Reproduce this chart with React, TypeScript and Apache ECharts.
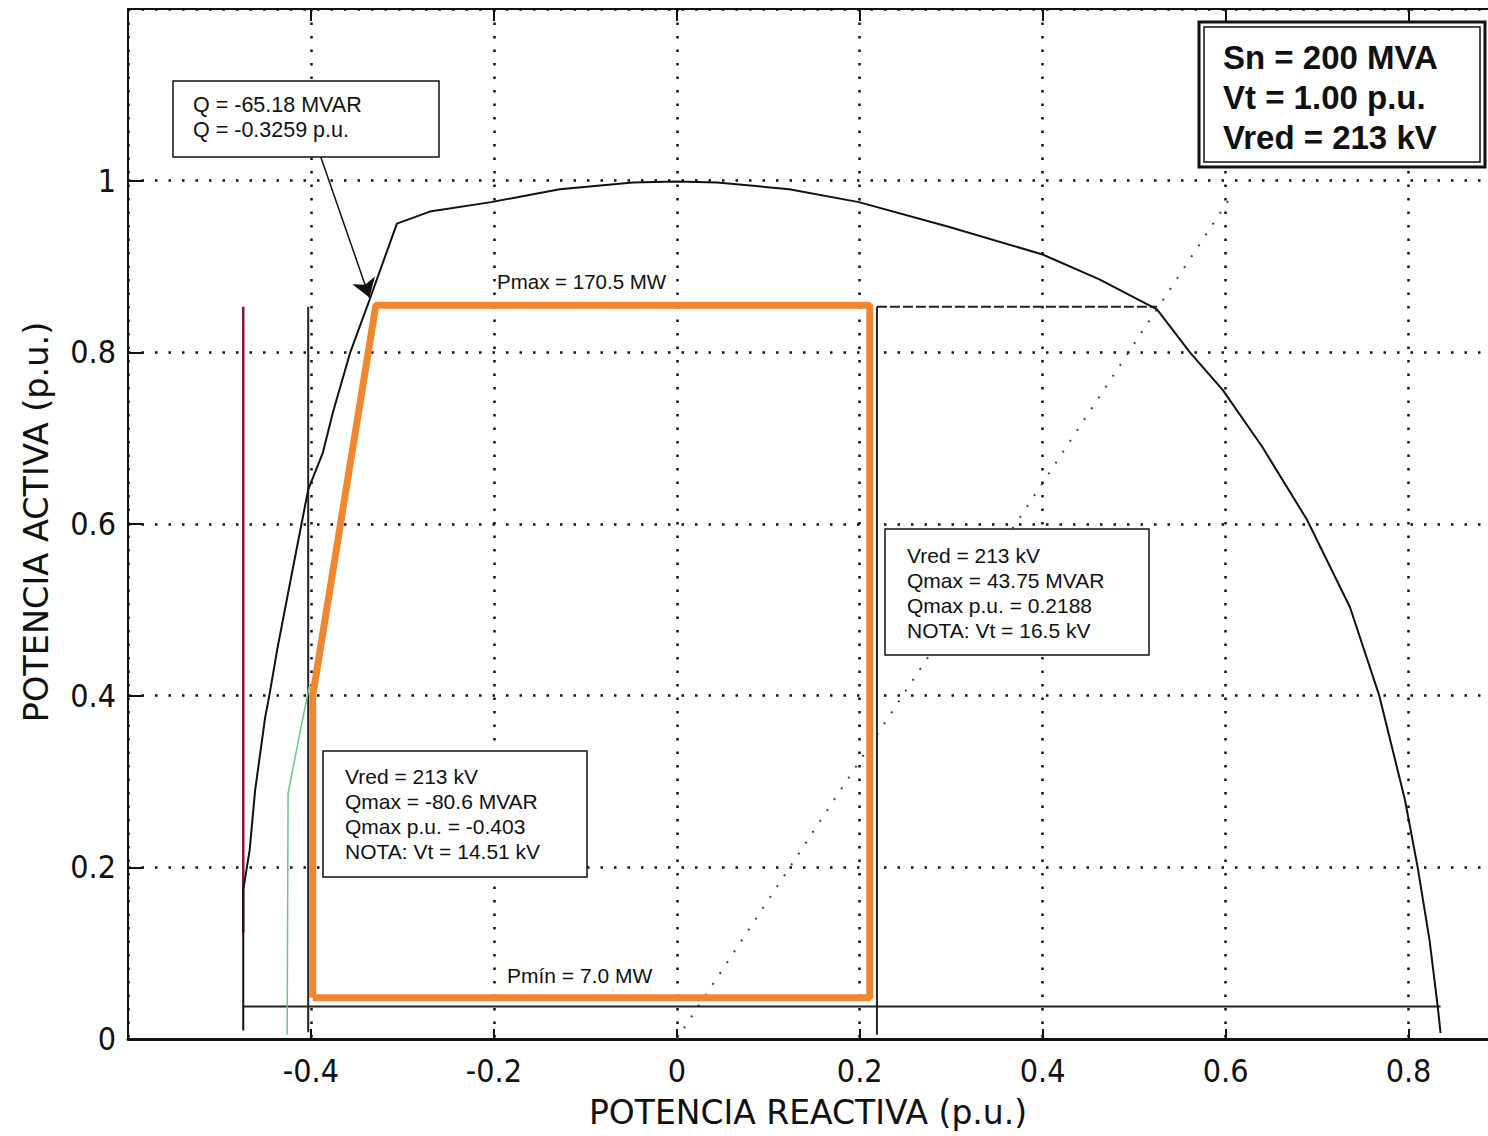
import React, { useEffect, useRef } from "react";
import * as echarts from "echarts";

// ---- axis ranges / ticks ----
const X_MIN = -0.6;
const X_MAX = 0.9;
const Y_MIN = 0;
const Y_MAX = 1.2;
const TICK_STEP = 0.2;

// ---- data (Q p.u., P p.u.) ----
const capabilityCurve: number[][] = [
  [-0.474, 0.010], [-0.474, 0.124], [-0.474, 0.174], [-0.467, 0.220], [-0.461, 0.290],
  [-0.450, 0.375], [-0.445, 0.403], [-0.437, 0.453], [-0.420, 0.547], [-0.403, 0.640],
  [-0.387, 0.683], [-0.376, 0.730], [-0.357, 0.800], [-0.336, 0.861], [-0.306, 0.950],
  [-0.270, 0.964], [-0.203, 0.975], [-0.128, 0.990], [-0.048, 0.998], [0.0, 0.999],
  [0.044, 0.998], [0.123, 0.990], [0.199, 0.975], [0.298, 0.946], [0.400, 0.914],
  [0.462, 0.885], [0.525, 0.850], [0.561, 0.800], [0.597, 0.756], [0.640, 0.690],
  [0.689, 0.605], [0.736, 0.503], [0.768, 0.400], [0.796, 0.279], [0.810, 0.200],
  [0.823, 0.115], [0.832, 0.037], [0.835, 0.007],
];
const operatingRegion: number[][] = [
  [-0.398, 0.048], [-0.398, 0.400], [-0.329, 0.855], [0.211, 0.855], [0.211, 0.048], [-0.398, 0.048],
];
const underexcitedLimit: number[][] = [[-0.403, 0.008], [-0.403, 0.853]];
const overexcitedLimit: number[][] = [[0.2188, 0.005], [0.2188, 0.853]];
const pminLine: number[][] = [[-0.474, 0.038], [0.835, 0.038]];
const pmaxDashed: number[][] = [[0.2188, 0.853], [0.525, 0.853]];
const redLimit: number[][] = [[-0.474, 0.124], [-0.474, 0.853]];
const greenLimit: number[][] = [[-0.426, 0.005], [-0.425, 0.286], [-0.412, 0.357], [-0.402, 0.410]];
const stabilityLine: number[][] = [[0.0, 0.0], [0.605, 0.98]];
const arrowCoords: number[][] = [[-0.390, 1.030], [-0.336, 0.864]];

// ---- texts ----
const qBoxLines = ["Q = -65.18 MVAR", "Q = -0.3259 p.u."];
const rightBoxLines = ["Vred = 213 kV", "Qmax = 43.75 MVAR", "Qmax p.u. = 0.2188", "NOTA: Vt = 16.5 kV"];
const leftBoxLines = ["Vred = 213 kV", "Qmax = -80.6 MVAR", "Qmax p.u. = -0.403", "NOTA: Vt = 14.51 kV"];
const infoBoxLines = ["Sn = 200 MVA", "Vt = 1.00 p.u.", "Vred = 213 kV"];
const pmaxLabel = "Pmax = 170.5 MW";
const pminLabel = "Pmín = 7.0 MW";
const xTitle = "POTENCIA REACTIVA (p.u.)";
const yTitle = "POTENCIA ACTIVA (p.u.)";

const AXIS_FONT = "'DejaVu Sans Condensed', 'Liberation Sans Narrow', 'DejaVu Sans', sans-serif";
const TITLE_FONT = "'DejaVu Sans', sans-serif";
const BOX_FONT = "'Liberation Sans', Arial, sans-serif";

const fmt = (v: number) => {
  const r = Math.round(v * 10) / 10;
  return r === 0 ? "0" : String(r);
};

function textLines(lines: string[], x: number, y0: number, dy: number, font: string) {
  return lines.map((t, i) => ({
    type: "text",
    x,
    y: y0 + i * dy,
    z: 110,
    style: {
      text: t,
      font,
      fill: "#111",
      align: "left",
      verticalAlign: "middle",
      textAlign: "left",
      textVerticalAlign: "middle",
    },
  }));
}

export default function App() {
  const ref = useRef<HTMLDivElement>(null);

  useEffect(() => {
    if (!ref.current) return;
    const chart = echarts.init(ref.current, null, { renderer: "svg" });

    const lineSeries = (data: number[][], color: string, width: number, type: any = "solid", z = 3) => ({
      type: "line",
      data,
      showSymbol: false,
      symbol: "none",
      z,
      silent: true,
      lineStyle: { color, width, type },
    });

    const box = (x: number, y: number, w: number, h: number, lw = 1.5) => ({
      type: "rect",
      z: 100,
      shape: { x, y, width: w, height: h },
      style: { fill: "#fff", stroke: "#111", lineWidth: lw },
    });

    const option: any = {
      animation: false,
      backgroundColor: "#fff",
      grid: { left: 128, right: -12, top: 9, bottom: 97, outerBoundsMode: "none", containLabel: false },
      xAxis: [
        {
          type: "value",
          min: X_MIN,
          max: X_MAX,
          interval: TICK_STEP,
          position: "bottom",
          axisLine: { show: true, onZero: false, lineStyle: { color: "#111", width: 3 } },
          axisTick: { show: true, inside: true, length: 10, lineStyle: { color: "#111", width: 2 } },
          axisLabel: {
            show: true,
            showMinLabel: false,
            showMaxLabel: false,
            formatter: fmt,
            margin: 16,
            fontSize: 32,
            fontFamily: AXIS_FONT,
            color: "#111",
          },
          splitLine: { show: true, lineStyle: { color: "#111", width: 2.5, type: [2.5, 11] } },
        },
        {
          type: "value",
          min: X_MIN,
          max: X_MAX,
          interval: TICK_STEP,
          position: "top",
          axisLine: { show: true, onZero: false, lineStyle: { color: "#111", width: 2 } },
          axisTick: { show: true, inside: true, length: 12, lineStyle: { color: "#111", width: 2 } },
          axisLabel: { show: false },
          splitLine: { show: false },
        },
      ],
      yAxis: {
        type: "value",
        min: Y_MIN,
        max: Y_MAX,
        interval: TICK_STEP,
        axisLine: { show: true, onZero: false, lineStyle: { color: "#111", width: 2 } },
        axisTick: { show: true, inside: true, length: 15, lineStyle: { color: "#111", width: 2 } },
        axisLabel: {
          show: true,
          showMaxLabel: false,
          formatter: fmt,
          margin: 12,
          fontSize: 32,
          fontFamily: AXIS_FONT,
          color: "#111",
        },
        splitLine: { show: true, lineStyle: { color: "#111", width: 2.5, type: [2.5, 11] } },
      },
      series: [
        lineSeries(stabilityLine, "#444", 2, [2, 11], 2),
        lineSeries(pminLine, "#222", 2),
        lineSeries(pmaxDashed, "#222", 2, [10, 3]),
        lineSeries(underexcitedLimit, "#222", 2),
        lineSeries(overexcitedLimit, "#222", 2),
        lineSeries(redLimit, "#7a1e3c", 2.5),
        lineSeries(greenLimit, "#6cc48a", 1.5),
        lineSeries(capabilityCurve, "#111", 2),
        lineSeries(operatingRegion, "#f0872e", 7, "solid", 5),
        {
          type: "lines",
          coordinateSystem: "cartesian2d",
          z: 6,
          silent: true,
          symbol: ["none", "arrow"],
          symbolSize: [10, 18],
          lineStyle: { color: "#111", width: 1.5, opacity: 1 },
          data: [{ coords: arrowCoords }],
        },
      ],
      graphic: [
        // Q annotation
        box(173, 81, 266, 76),
        ...textLines(qBoxLines, 193, 105, 25, `21.5px ${BOX_FONT}`),
        // right box
        box(885, 529, 264, 126),
        ...textLines(rightBoxLines, 907, 555, 25.3, `21px ${BOX_FONT}`),
        // lower-left box
        box(323, 751, 264, 126),
        ...textLines(leftBoxLines, 345, 776, 25.3, `21px ${BOX_FONT}`),
        // info box (double frame)
        box(1199, 22, 286, 145, 3),
        {
          type: "rect",
          z: 101,
          shape: { x: 1204, y: 27, width: 276, height: 135 },
          style: { fill: "none", stroke: "#111", lineWidth: 1.5 },
        },
        ...textLines(infoBoxLines, 1223, 57, 40, `bold 33px ${BOX_FONT}`),
        // Pmax / Pmin labels
        ...textLines([pmaxLabel], 497, 281, 0, `20.5px ${BOX_FONT}`),
        ...textLines([pminLabel], 507, 975, 0, `21px ${BOX_FONT}`),
        // axis titles
        {
          type: "text",
          x: 808,
          y: 1112,
          z: 110,
          style: {
            text: xTitle,
            font: `33px ${TITLE_FONT}`,
            fill: "#111",
            align: "center",
            verticalAlign: "middle",
            textAlign: "center",
            textVerticalAlign: "middle",
          },
        },
        {
          type: "text",
          x: 36,
          y: 522,
          rotation: Math.PI / 2,
          z: 110,
          style: {
            text: yTitle,
            font: `33.5px ${TITLE_FONT}`,
            fill: "#111",
            align: "center",
            verticalAlign: "middle",
            textAlign: "center",
            textVerticalAlign: "middle",
          },
        },
      ],
    };

    chart.setOption(option);
    return () => chart.dispose();
  }, []);

  return (
    <div
      ref={ref}
      style={{ position: "absolute", left: 0, top: 0, width: 1488, height: 1136, background: "#fff", overflow: "hidden" }}
    />
  );
}
